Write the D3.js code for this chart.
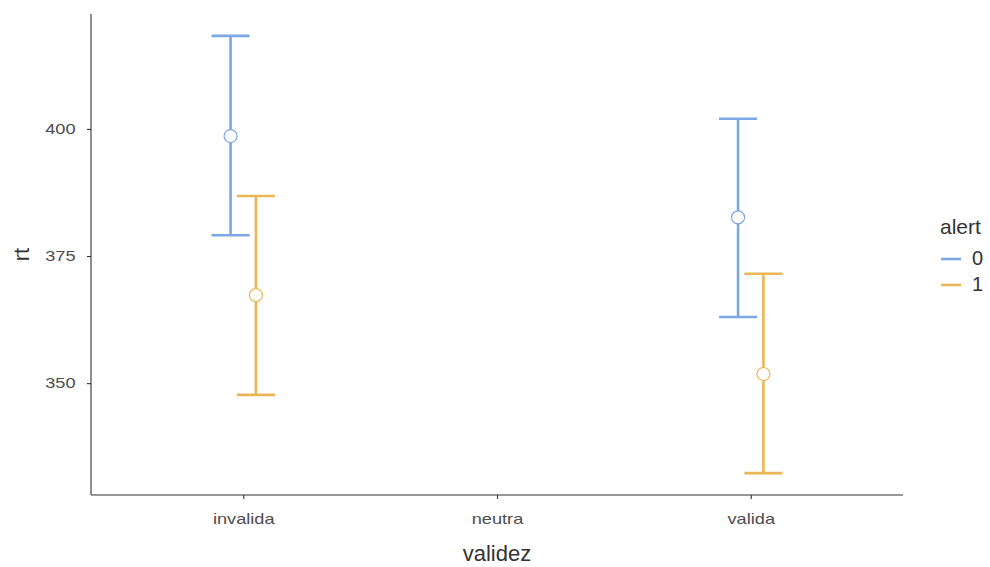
<!DOCTYPE html>
<html>
<head>
<meta charset="utf-8">
<script src="https://cdn.jsdelivr.net/npm/d3@7"></script>
<style>
  body { margin: 0; background: #fff; }
  text { font-family: "Liberation Sans", Arial, sans-serif; }
</style>
</head>
<body>
<div id="chart"></div>
<script>
// datos
const categories = ["invalida", "neutra", "valida"];
const alerts = ["0", "1"];
const colors = ["#7ba7e6", "#ebb656"];
// media y limites del intervalo por alerta (invalida, valida)
const cats0 = ["invalida", "valida"];
const mean0 = [398.6, 382.6];
const lower0 = [379.1, 363.0];
const upper0 = [418.3, 402.0];
const cats1 = ["invalida", "valida"];
const mean1 = [367.3, 351.8];
const lower1 = [347.7, 332.3];
const upper1 = [386.8, 371.5];
const yTicks = [350, 375, 400];

const width = 990, height = 567;
const margin = { top: 14, right: 87, bottom: 72, left: 91 };
const tickStretch = 1.3; // las etiquetas de los ejes salen anchas

const svg = d3.select("#chart").append("svg")
  .attr("width", width)
  .attr("height", height);

const data = [];
alerts.forEach((a, i) => {
  const cats = i === 0 ? cats0 : cats1;
  const m = i === 0 ? mean0 : mean1;
  const lo = i === 0 ? lower0 : lower1;
  const hi = i === 0 ? upper0 : upper1;
  cats.forEach((c, j) => data.push({ cat: c, alert: a, mean: m[j], lo: lo[j], hi: hi[j] }));
});

// escala discreta con expansion de 0.6 unidades como ggplot
const x = d3.scalePoint()
  .domain(categories)
  .range([margin.left, width - margin.right])
  .padding(0.6);

const step = x.step();
const dodge = d3.scaleBand().domain(alerts).range([-0.1 * step, 0.1 * step]);
const xOff = a => dodge(a) + dodge.bandwidth() / 2;
const capHalf = 0.075 * step;

const lo = d3.min(data, d => d.lo), hi = d3.max(data, d => d.hi);
const pad = (hi - lo) * 0.05;
const y = d3.scaleLinear()
  .domain([lo - pad, hi + pad])
  .range([height - margin.bottom, margin.top]);

const color = d3.scaleOrdinal().domain(alerts).range(colors);

// ejes
const gx = svg.append("g")
  .attr("transform", `translate(0,${height - margin.bottom})`)
  .call(d3.axisBottom(x).tickSize(4).tickPadding(15))
  .call(g => g.select(".domain").attr("d", `M${margin.left},0H${width - margin.right}`));
const gy = svg.append("g")
  .attr("transform", `translate(${margin.left},0)`)
  .call(d3.axisLeft(y).tickValues(yTicks).tickSize(4).tickPadding(11))
  .call(g => g.select(".domain").attr("d", `M0,${margin.top}V${height - margin.bottom}`));

[gx, gy].forEach(g => {
  g.select(".domain").attr("stroke", "#333").attr("stroke-width", 1.1);
  g.selectAll(".tick line").attr("stroke", "#333").attr("stroke-width", 1.1);
  g.selectAll(".tick text")
    .attr("fill", "#4d4d4d")
    .style("font-size", "14px")
    .attr("transform", `scale(${tickStretch},1)`);
});
gy.selectAll(".tick text").attr("x", -15.5 / tickStretch);

svg.append("text")
  .attr("x", (margin.left + width - margin.right) / 2)
  .attr("y", 561)
  .attr("text-anchor", "middle")
  .attr("fill", "#333")
  .style("font-size", "22px")
  .text("validez");

svg.append("text")
  .attr("transform", `translate(29,${(margin.top + height - margin.bottom) / 2}) rotate(-90)`)
  .attr("text-anchor", "middle")
  .attr("fill", "#333")
  .style("font-size", "22px")
  .text("rt");

// barras de error
const bars = svg.append("g").selectAll("g")
  .data(data)
  .join("g")
  .attr("stroke", d => color(d.alert))
  .attr("stroke-width", 2.6)
  .attr("fill", "none");

bars.append("line")
  .attr("x1", d => x(d.cat) + xOff(d.alert))
  .attr("x2", d => x(d.cat) + xOff(d.alert))
  .attr("y1", d => y(d.lo))
  .attr("y2", d => y(d.hi));
bars.append("line")
  .attr("x1", d => x(d.cat) + xOff(d.alert) - capHalf)
  .attr("x2", d => x(d.cat) + xOff(d.alert) + capHalf)
  .attr("y1", d => y(d.hi))
  .attr("y2", d => y(d.hi));
bars.append("line")
  .attr("x1", d => x(d.cat) + xOff(d.alert) - capHalf)
  .attr("x2", d => x(d.cat) + xOff(d.alert) + capHalf)
  .attr("y1", d => y(d.lo))
  .attr("y2", d => y(d.lo));

// puntos
svg.append("g").selectAll("circle")
  .data(data)
  .join("circle")
  .attr("cx", d => x(d.cat) + xOff(d.alert))
  .attr("cy", d => y(d.mean))
  .attr("r", 6.5)
  .attr("fill", "#fff")
  .attr("stroke", d => color(d.alert))
  .attr("stroke-width", 1.2);

// leyenda
const leg = svg.append("g").attr("transform", "translate(940,0)");
leg.append("text")
  .attr("x", 0).attr("y", 234)
  .attr("fill", "#333")
  .style("font-size", "21px")
  .text("alert");
const items = leg.selectAll("g.item")
  .data(alerts)
  .join("g")
  .attr("class", "item")
  .attr("transform", (d, i) => `translate(0,${259 + i * 26})`);
items.append("line")
  .attr("x1", 1).attr("x2", 21)
  .attr("y1", 0).attr("y2", 0)
  .attr("stroke", d => color(d))
  .attr("stroke-width", 2.6);
items.append("text")
  .attr("x", 32).attr("y", 4.5)
  .attr("dy", "0.05em")
  .attr("fill", "#333")
  .style("font-size", "20px")
  .text(d => d);
</script>
</body>
</html>
